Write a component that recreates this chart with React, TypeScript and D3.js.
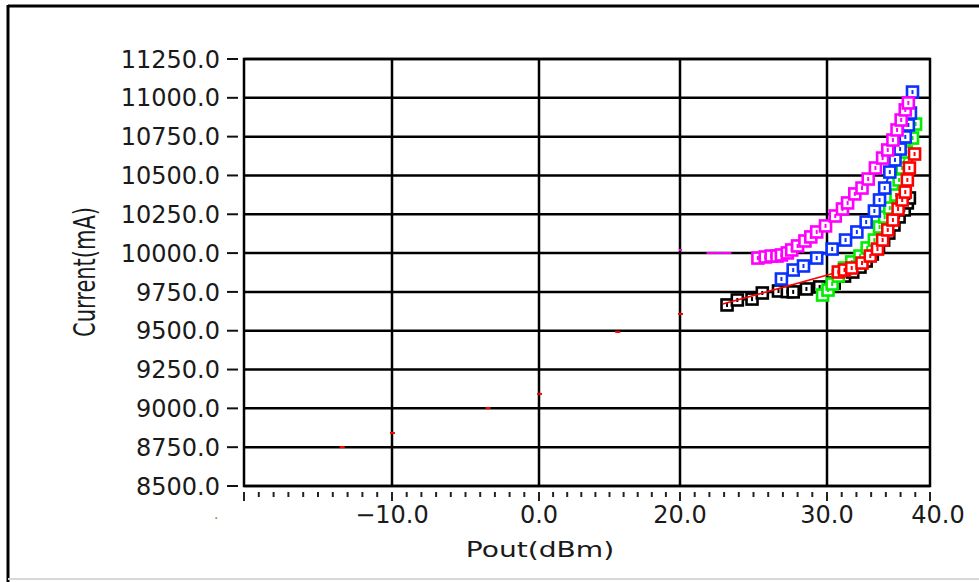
import React from 'react'
import * as d3 from 'd3'

const W = 979
const H = 582

// x axis is a LabVIEW style custom scale, labels are not evenly spread
const xBreaks = [-20, -10, 0, 20, 30, 40]
const xLabelTicks = [-10, 0, 20, 30, 40]
const xGridTicks = [-10, 0, 20, 30]
const xMinorSteps = [10, 10, 10, 10, 7]
const yTicks = d3.range(8500, 11251, 250)

// Pout (dBm), Current (mA)
const blackData: [number, number][] = [
  [23.2, 9666], [23.9, 9698], [24.9, 9704], [25.6, 9743], [26.7, 9756], [27.3, 9752],
  [27.7, 9750], [28.6, 9769], [29.5, 9782], [30.7, 9807], [31.7, 9852], [32.5, 9878],
  [33.2, 9910], [33.8, 9949], [34.4, 9994], [35.0, 10039], [35.5, 10084], [36.0, 10129],
  [36.5, 10181], [37.0, 10233], [37.5, 10278], [37.8, 10323], [38.0, 10355],
]
const greenData: [number, number][] = [
  [29.7, 9730], [30.1, 9762], [30.5, 9801], [31.1, 9852], [31.7, 9904], [32.4, 9943],
  [33.2, 9981], [33.9, 10033], [34.6, 10084], [35.1, 10168], [35.6, 10232], [36.1, 10290],
  [36.7, 10374], [37.0, 10471], [37.3, 10548], [37.7, 10651], [38.3, 10741], [38.6, 10831],
]
const redData: [number, number][] = [
  [22.9, 9672], [31.1, 9878], [31.7, 9891], [32.4, 9904], [33.4, 9936], [34.2, 9981],
  [34.9, 10026], [35.4, 10084], [35.9, 10149], [36.4, 10213], [36.9, 10284], [37.3, 10342],
  [37.6, 10393], [37.8, 10471], [38.0, 10548], [38.5, 10638],
]
const redSweep: [number, number][] = [
  [-13.4, 8751], [-10.0, 8841], [-3.5, 9002], [0.0, 9093], [11.1, 9492], [20.0, 9608],
]
const blueData: [number, number][] = [
  [26.9, 9833], [27.7, 9891], [28.4, 9917], [29.3, 9968], [30.5, 10026], [31.8, 10084],
  [32.9, 10136], [33.8, 10200], [34.6, 10271], [35.1, 10342], [35.6, 10419], [36.1, 10522],
  [36.6, 10600], [37.1, 10670], [37.6, 10748], [37.9, 10825], [38.1, 10902], [38.3, 11037],
]
const magentaData: [number, number][] = [
  [25.3, 9968], [25.8, 9975], [26.2, 9981], [26.6, 9981], [26.9, 9988], [27.3, 10001],
  [27.6, 10020], [28.0, 10046], [28.5, 10078], [28.9, 10104], [29.3, 10136], [29.9, 10175],
  [30.8, 10239], [31.5, 10284], [32.0, 10323], [32.7, 10381], [33.4, 10419], [34.0, 10477],
  [34.7, 10548], [35.4, 10612], [35.9, 10664], [36.4, 10728], [36.8, 10793], [37.2, 10857],
  [37.6, 10922], [37.9, 10967],
]
const magentaSweep: [number, number][] = [[20.0, 10020]]
const magentaTrace: [number, number][] = [[21.8, 10001], [23.5, 10001]]

const series = [
  { name: 'black', color: '#000000', data: blackData },
  { name: 'green', color: '#00ee00', data: greenData },
  { name: 'blue', color: '#0a32ff', data: blueData },
  { name: 'red', color: '#ff0000', data: redData },
  { name: 'magenta', color: '#ff00ff', data: magentaData },
]

const plot = { left: 244, right: 930, top: 59, bottom: 486 }

export default function App() {
  const x = d3.scaleLinear().domain(xBreaks).range([244, 392, 539, 680, 827, 930])
  const y = d3.scaleLinear().domain([8500, 11250]).range([plot.bottom, plot.top])
  const line = d3.line<[number, number]>().x(d => x(d[0])).y(d => y(d[1]))

  const minorTicks: number[] = []
  xMinorSteps.forEach((n, i) => {
    const a = xBreaks[i], b = xBreaks[i + 1]
    for (let k = 1; k < n; k++) minorTicks.push(a + ((b - a) * k) / n)
  })

  const font = 'DejaVu Sans, Verdana, sans-serif'
  const ms = 11

  return (
    <svg width={W} height={H} style={{ position: 'absolute', left: 0, top: 0, background: '#fff' }}>
      <rect x={0} y={0} width={W} height={H} fill="#fff" />
      {/* outer frame */}
      <line x1={8} y1={6} x2={W} y2={6} stroke="#000" strokeWidth={3} />
      <line x1={8} y1={5} x2={8} y2={H} stroke="#000" strokeWidth={3} />
      <line x1={8} y1={579} x2={W} y2={579} stroke="#d8d8d8" strokeWidth={2} />

      {/* grid */}
      {yTicks.map(t => (
        <line key={'gy' + t} x1={plot.left} x2={plot.right} y1={y(t)} y2={y(t)} stroke="#000" strokeWidth={2.5} />
      ))}
      {xGridTicks.map(t => (
        <line key={'gx' + t} x1={x(t)} x2={x(t)} y1={plot.top} y2={plot.bottom} stroke="#000" strokeWidth={2.5} />
      ))}
      <rect x={plot.left} y={plot.top} width={plot.right - plot.left} height={plot.bottom - plot.top}
        fill="none" stroke="#000" strokeWidth={2.5} />

      {/* y axis */}
      {yTicks.map(t => (
        <g key={'yt' + t}>
          <line x1={227} x2={238} y1={y(t)} y2={y(t)} stroke="#111" strokeWidth={2} />
          <text x={220} y={y(t)} dy="0.36em" textAnchor="end" fontFamily={font} fontSize={24} fill="#1a1a1a">
            {t.toFixed(1)}
          </text>
        </g>
      ))}
      <text transform={`translate(95,272) scale(1.4,1) rotate(-90)`} textAnchor="middle" fontFamily={font}
        fontSize={21} fill="#1a1a1a">Current(mA)</text>

      {/* x axis */}
      {minorTicks.map((t, i) => (
        <line key={'mt' + i} x1={x(t)} x2={x(t)} y1={492} y2={497} stroke="#222" strokeWidth={2} />
      ))}
      {[-20, ...xLabelTicks].map(t => (
        <line key={'xt' + t} x1={x(t)} x2={x(t)} y1={492} y2={501} stroke="#222" strokeWidth={2} />
      ))}
      {xLabelTicks.map(t => (
        <text key={'xl' + t} x={x(t) + (t === 40 ? 8 : 0)} y={523} textAnchor="middle" fontFamily={font}
          fontSize={24} fill="#1a1a1a">
          {t < 0 ? '\u2212' + Math.abs(t).toFixed(1) : t.toFixed(1)}
        </text>
      ))}
      <text x={x(-20) - 30} y={519} fontFamily={font} fontSize={14} fill="#b07030">.</text>
      <text transform={`translate(540,557) scale(1.34,1)`} textAnchor="middle" fontFamily={font} fontSize={21}
        fill="#1a1a1a">Pout(dBm)</text>

      {/* sweep remnants */}
      {redSweep.map((d, i) => (
        <rect key={'rs' + i} x={x(d[0]) - 2} y={y(d[1]) - 1} width={5} height={2} fill="#ff0000" />
      ))}
      {magentaSweep.map((d, i) => (
        <rect key={'ms' + i} x={x(d[0]) - 1} y={y(d[1]) - 1} width={3} height={2} fill="#ff00ff" />
      ))}
      <path d={line(magentaTrace) || ''} fill="none" stroke="#ff00ff" strokeWidth={2} />

      {/* series */}
      {series.map(s => (
        <g key={s.name}>
          <path d={line(s.data) || ''} fill="none" stroke={s.color} strokeWidth={s.name === 'red' ? 1.6 : 2} />
          {s.data.map((d, i) => (
            (s.name === 'red' && i === 0) ? null : (
              <g key={i}>
                <rect x={x(d[0]) - ms / 2} y={y(d[1]) - ms / 2} width={ms} height={ms} fill="#fff"
                  stroke={s.color} strokeWidth={2.6} />
                <rect x={x(d[0]) - 1} y={y(d[1]) - 2} width={2} height={4} fill={s.color} />
              </g>
            )
          ))}
        </g>
      ))}
    </svg>
  )
}
